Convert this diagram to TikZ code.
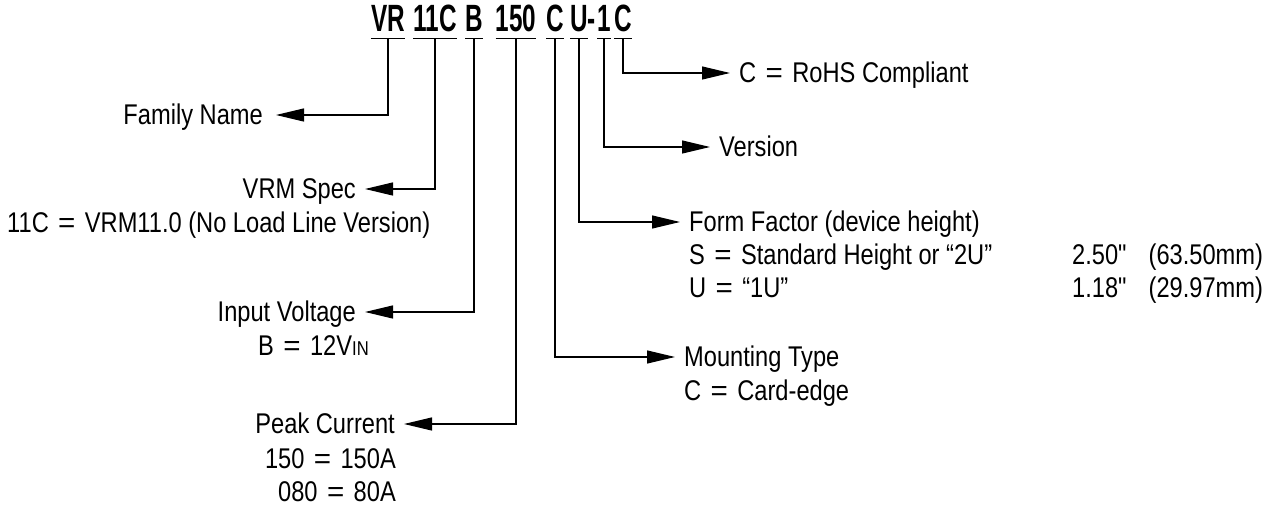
\documentclass[tikz,border=0pt]{standalone}
\usepackage{fontspec}
\usepackage{graphicx}
\setmainfont{Liberation Sans}[FakeStretch=0.83]
\newfontfamily\nomap{Liberation Sans}[FakeStretch=0.83]
\newfontfamily\titlefont{Liberation Sans}[FakeStretch=0.64]
\newcommand\myeq{\hspace{0.33em}\scalebox{1.25}[1]{=}\hspace{0.33em}}
\usetikzlibrary{arrows.meta}
\tikzset{
  lbl/.style={inner sep=0pt, text height=20pt, text depth=0pt, font=\fontsize{28.5}{34}\selectfont},
  seg/.style={inner sep=0pt, text height=27pt, text depth=6pt, font=\titlefont\bfseries\fontsize{38}{38}\selectfont},
  uline/.style={line width=1.2pt},
  conn/.style={line width=1.2pt, -{Triangle[length=28pt,width=13pt]}, shorten >=9pt},
}
\begin{document}
\begin{tikzpicture}[x=1pt,y=-1pt]
\useasboundingbox (0,0) rectangle (1280,510);
% title segments
\node[seg, anchor=base] (s1) at (388,32) {VR};
\node[seg, anchor=base] (s2) at (435,32) {11C};
\node[seg, anchor=base] (s3) at (474,32) {B};
\node[seg, anchor=base] (s4) at (516,32) {150};
\node[seg, anchor=base] (s5) at (555,32) {C};
\node[seg, anchor=base] (s6) at (579,32) {U};
\node[seg, anchor=base] (dash) at (592,32) {-};
\node[seg, anchor=base] (s7) at (604,32) {1};
\node[seg, anchor=base] (s8) at (623,32) {C};
\foreach \s in {s1,s2,s3,s4,s5,s6,s7,s8}{
  \draw[uline] (\s.south west) -- (\s.south east);
}
% left labels
\node[lbl, anchor=east] (fam) at (263,115) {Family Name};
\node[lbl, anchor=east] (vrm) at (356,189) {VRM Spec};
\node[lbl, anchor=west] (vrmd) at (7,223) {11C\myeq VRM11.0 (No Load Line Version)};
\node[lbl, anchor=east] (inv) at (356,312) {Input Voltage};
\node[lbl, anchor=west] (invd) at (258,346) {B\myeq 12V{\fontsize{20}{20}\selectfont IN}};
\node[lbl, anchor=east] (pk) at (395,424) {Peak Current};
\node[lbl, anchor=east] (pk1) at (396,458) {150\myeq 150A};
\node[lbl, anchor=east] (pk2) at (396,491) {080\myeq 80A};
% right labels
\node[lbl, anchor=west] (rohs) at (739,73) {C\myeq RoHS Compliant};
\node[lbl, anchor=west] (ver) at (719,147) {Version};
\node[lbl, anchor=west] (ff) at (689,222) {Form Factor (device height)};
\node[lbl, anchor=west] (ffs) at (689,255) {S\myeq Standard Height or “2U”};
\node[lbl, anchor=west] (ffu) at (689,288) {U\myeq “1U”};
\node[lbl, anchor=west] (ffs2) at (1072,255) {2.50{\nomap"}\hspace{22pt}(63.50mm)};
\node[lbl, anchor=west] (ffu2) at (1072,288) {1.18{\nomap"}\hspace{22pt}(29.97mm)};
\node[lbl, anchor=west] (mt) at (684,357) {Mounting Type};
\node[lbl, anchor=west] (mtd) at (684,391) {C\myeq Card-edge};
% connectors
\draw[conn, shorten >=13pt] (s1.south) |- (fam.east);
\draw[conn] (s2.south) |- (vrm.east);
\draw[conn] (s3.south) |- (inv.east);
\draw[conn] (s4.south) |- (pk.east);
\draw[conn] (s5.south) |- (mt.west);
\draw[conn] (s6.south) |- (ff.west);
\draw[conn] (s7.south) |- (ver.west);
\draw[conn] (s8.south) |- (rohs.west);
\end{tikzpicture}
\end{document}
